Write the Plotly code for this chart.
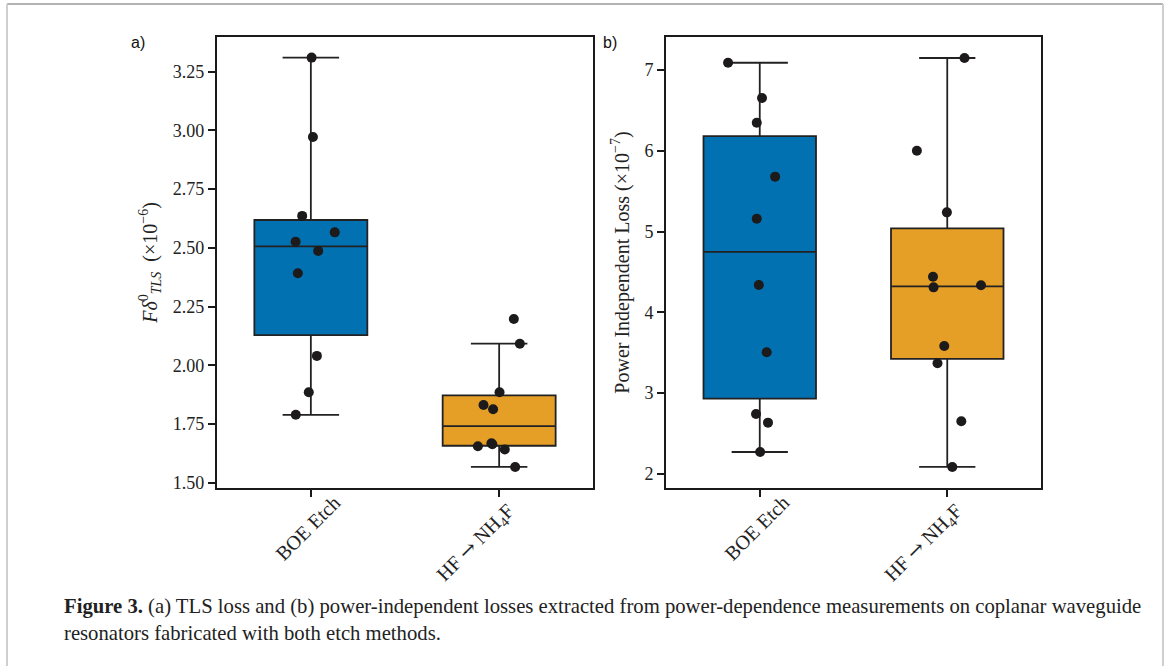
import numpy as np
import plotly.graph_objects as go

W, H = 1168, 666

# ---------------- data ----------------
categories = ["BOE Etch",
              "HF <span style='font-family:DejaVu Serif'>→</span> NH<sub>4</sub>F"]

# (a) TLS loss  F*delta0_TLS  (x1e-6)
tls_boe = [3.310, 2.972, 2.636, 2.566, 2.526, 2.487, 2.392, 2.040, 1.885, 1.789]
tls_hf = [2.197, 2.092, 1.885, 1.831, 1.813, 1.668, 1.664, 1.655, 1.641, 1.567]

# (b) power independent loss (x1e-7)
pil_boe = [7.090, 6.653, 6.348, 5.680, 5.160, 4.339, 3.506, 2.743, 2.635, 2.272]
pil_hf = [7.149, 6.000, 5.238, 4.442, 4.310, 4.335, 3.584, 3.370, 2.652, 2.087]

# strip-plot jitter of each point (category units)
jit_tls_boe = [0.004, 0.011, -0.046, 0.127, -0.081, 0.039, -0.069, 0.032, -0.011, -0.080]
jit_tls_hf = [0.078, 0.110, 0.002, -0.083, -0.032, -0.041, -0.036, -0.113, 0.030, 0.085]
jit_pil_boe = [-0.169, 0.012, -0.016, 0.082, -0.016, -0.005, 0.037, -0.020, 0.044, 0.002]
jit_pil_hf = [0.092, -0.162, -0.002, -0.076, -0.073, 0.180, -0.016, -0.052, 0.075, 0.027]

box_colors = ["#0271b1", "#e69f26"]

# ---------------- figure ----------------
fig = go.Figure()


def box_stats(vals):
    arr = np.asarray(vals, dtype=float)
    q1, med, q3 = np.percentile(arr, [25, 50, 75])
    iqr = q3 - q1
    lo = arr[arr >= q1 - 1.5 * iqr].min()
    hi = arr[arr <= q3 + 1.5 * iqr].max()
    return q1, med, q3, lo, hi


def add_group(pos, vals, jit, color, xa, ya):
    q1, med, q3, lo, hi = box_stats(vals)
    fig.add_trace(go.Box(
        x=[pos], q1=[q1], median=[med], q3=[q3], lowerfence=[lo], upperfence=[hi],
        width=0.6, whiskerwidth=0.5, fillcolor=color,
        line=dict(color="#222222", width=1.8), boxpoints=False,
        showlegend=False, xaxis=xa, yaxis=ya, hoverinfo="y"))
    fig.add_trace(go.Scatter(
        x=[pos + j for j in jit], y=vals, mode="markers",
        marker=dict(color="#1c1a1b", size=10, line=dict(width=0)),
        showlegend=False, xaxis=xa, yaxis=ya))


add_group(0, tls_boe, jit_tls_boe, box_colors[0], "x", "y")
add_group(1, tls_hf, jit_tls_hf, box_colors[1], "x", "y")
add_group(0, pil_boe, jit_pil_boe, box_colors[0], "x2", "y2")
add_group(1, pil_hf, jit_pil_hf, box_colors[1], "x2", "y2")

tick_font = dict(family="Liberation Serif, Times New Roman, serif", size=18, color="#222222")
cat_font = dict(family="Liberation Serif, Times New Roman, serif", size=20, color="#222222")
title_font = dict(family="Liberation Serif, Times New Roman, serif", size=20, color="#222222")
ydom = [1 - 487.7 / H, 1 - 37.3 / H]

common_x = dict(range=[-0.5, 1.5], tickvals=[0, 1], showticklabels=False,
                showline=True, mirror=True, linecolor="#1a1a1a", linewidth=1.7,
                ticks="outside", ticklen=7, tickwidth=1.7, tickcolor="#1a1a1a",
                showgrid=False, zeroline=False, fixedrange=True, automargin=False)
common_y = dict(showline=True, mirror=True, linecolor="#1a1a1a", linewidth=1.7,
                ticks="outside", ticklen=7, tickwidth=1.7, tickcolor="#1a1a1a",
                showgrid=False, zeroline=False, tickfont=tick_font, automargin=False,
                domain=ydom)

fig.update_layout(
    width=W, height=H,
    margin=dict(l=0, r=0, t=0, b=0),
    paper_bgcolor="white", plot_bgcolor="white",
    xaxis=dict(domain=[216.7 / W, 593.3 / W], anchor="y", **common_x),
    xaxis2=dict(domain=[666.0 / W, 1041.0 / W], anchor="y2", **common_x),
    yaxis=dict(anchor="x", range=[1.4787, 3.3965], tickvals=[1.5, 1.75, 2.0, 2.25, 2.5, 2.75, 3.0, 3.25],
               tickformat=".2f",
               title=dict(text="<i>Fδ</i><sup>0</sup><sub><i>TLS</i></sub>  (×10<sup>−6</sup>)",
                          font=title_font, standoff=10),
               **common_y),
    yaxis2=dict(anchor="x2", range=[1.830, 7.405], tickvals=[2, 3, 4, 5, 6, 7],
                title=dict(text="Power Independent Loss (×10<sup>−7</sup>)",
                           font=title_font, standoff=10),
                **common_y),
)

# rotated category labels
for xr in ("x", "x2"):
    fig.add_annotation(x=0 - 0.016, y=1 - 528 / H, xref=xr, yref="paper", text=categories[0],
                       textangle=-45, showarrow=False, xanchor="center", yanchor="middle",
                       font=cat_font)
    fig.add_annotation(x=1 - 0.125, y=1 - 543 / H, xref=xr, yref="paper", text=categories[1],
                       textangle=-45, showarrow=False, xanchor="center", yanchor="middle",
                       font=cat_font)

# panel labels
for txt, px in (("a)", 138), ("b)", 610)):
    fig.add_annotation(x=px / W, y=1 - 42 / H, xref="paper", yref="paper", text=txt,
                       showarrow=False, xanchor="center", yanchor="middle",
                       font=dict(family="Liberation Sans, Arial, sans-serif", size=16, color="#111111"))

# caption
cap_font = dict(family="Liberation Serif, Times New Roman, serif", size=20.7, color="#222222")
fig.add_annotation(x=62 / W, y=1 - 606 / H, xref="paper", yref="paper",
                   text="<b>Figure 3.</b> (a) TLS loss and (b) power-independent losses extracted from "
                        "power-dependence measurements on coplanar waveguide",
                   showarrow=False, xanchor="left", yanchor="middle", font=cap_font)
fig.add_annotation(x=62 / W, y=1 - 633 / H, xref="paper", yref="paper",
                   text="resonators fabricated with both etch methods.",
                   showarrow=False, xanchor="left", yanchor="middle", font=cap_font)

# outer frame
fig.add_shape(type="line", xref="paper", yref="paper", x0=7 / W, x1=1163 / W,
              y0=1 - 4 / H, y1=1 - 4 / H, line=dict(color="#9a9a9a", width=1.5))
fig.add_shape(type="line", xref="paper", yref="paper", x0=7 / W, x1=7 / W,
              y0=0, y1=1 - 4 / H, line=dict(color="#cfcfcf", width=2))
fig.add_shape(type="line", xref="paper", yref="paper", x0=1163 / W, x1=1163 / W,
              y0=0, y1=1 - 4 / H, line=dict(color="#cfcfcf", width=2))

fig.write_html("out.html", config={"displayModeBar": False},
               post_script="document.body.style.margin='0';document.body.style.overflow='hidden';")
